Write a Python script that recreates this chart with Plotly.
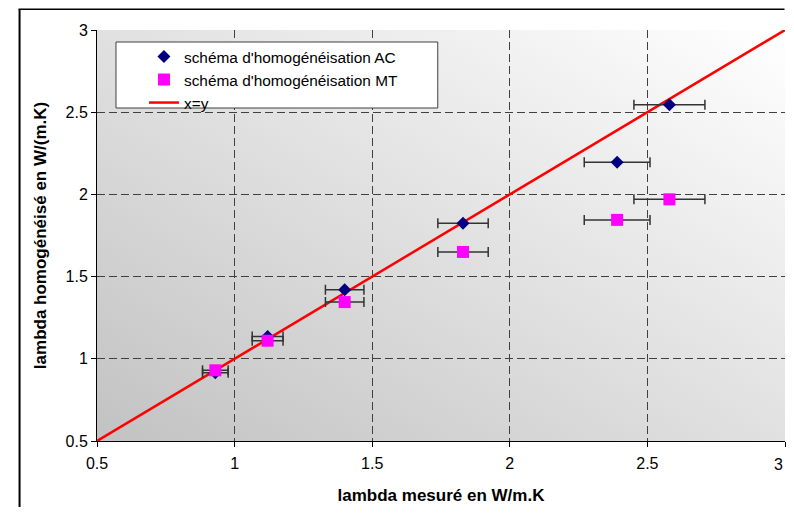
import plotly.graph_objects as go
import urllib.parse

# ---- data ----
lambda_mesure = [0.93, 1.12, 1.40, 1.83, 2.39, 2.58]
lambda_ac = [0.915, 1.135, 1.42, 1.825, 2.195, 2.545]
lambda_mt = [0.93, 1.11, 1.345, 1.65, 1.845, 1.97]
line_xy = [0.5, 3.0]
err_percent = 5
tick_vals = [0.5, 1, 1.5, 2, 2.5, 3]
tick_text = ["0.5", "1", "1.5", "2", "2.5", "3"]

FONT = "Liberation Sans, Arial, sans-serif"

# the page body has an 8px margin; the figure fits inside it (no overflow)
OFF = 8
FIG_W, FIG_H = 794 - 2 * OFF, 516 - 2 * OFF
L, R, T, B = 97 - OFF, 785.5 - OFF, 30 - OFF, 441 - OFF
W_, H_ = R - L, B - T


def px(x):
    return (x - OFF - L) / W_


def py(y):
    return (B - (y - OFF)) / H_


fig = go.Figure()

fig.add_trace(go.Scatter(
    x=line_xy, y=line_xy, mode="lines", name="x=y",
    line=dict(color="#FF0000", width=2.5), legendrank=3,
))
fig.add_trace(go.Scatter(
    x=lambda_mesure, y=lambda_ac, mode="markers",
    name="schéma d'homogénéisation AC",
    marker=dict(symbol="diamond", size=10, color="#000080"),
    error_x=dict(type="percent", value=err_percent, color="#333333", thickness=1.5, width=5),
    legendrank=1,
))
fig.add_trace(go.Scatter(
    x=lambda_mesure, y=lambda_mt, mode="markers",
    name="schéma d'homogénéisation MT",
    marker=dict(symbol="square", size=12, color="#FF00FF"),
    error_x=dict(type="percent", value=err_percent, color="#333333", thickness=1.5, width=5),
    legendrank=2,
))

svg = ('<svg xmlns="http://www.w3.org/2000/svg" width="100" height="100" viewBox="0 0 100 100" '
       'preserveAspectRatio="none"><defs><linearGradient id="g" x1="0" y1="1" x2="1" y2="0">'
       '<stop offset="0" stop-color="#c2c2c2"/><stop offset="1" stop-color="#ffffff"/>'
       '</linearGradient></defs><rect width="100" height="100" fill="url(#g)"/></svg>')
src = "data:image/svg+xml;charset=utf-8," + urllib.parse.quote(svg)

axis_common = dict(
    range=[0.5, 3], tickvals=tick_vals, ticktext=tick_text,
    showline=True, linecolor="black", linewidth=1,
    ticks="outside", ticklen=5, tickcolor="black", tickwidth=1,
    showgrid=True, gridcolor="#404040", gridwidth=1, griddash="8px,4px",
    zeroline=False, tickfont=dict(family=FONT, size=16, color="black"),
)

# last x tick label sits at the page edge: keep it inside the figure
annotations = [dict(xref="x", yref="paper", x=tick_vals[-1], y=0, text=tick_text[-1],
                    showarrow=False, xanchor="right", yanchor="top", yshift=-13,
                    font=dict(family=FONT, size=16, color="black"))]

fig.update_layout(
    width=FIG_W, height=FIG_H, autosize=False,
    margin=dict(l=L, r=FIG_W - R, t=T, b=FIG_H - B, pad=0),
    paper_bgcolor="white", plot_bgcolor="white",
    font=dict(family=FONT, color="black"),
    xaxis=dict(axis_common, ticklabelstandoff=3,
               title=dict(text="<b>lambda mesuré en W/m.K</b>",
                          font=dict(family=FONT, size=17), standoff=17)),
    yaxis=dict(axis_common, title=dict(text="<b>lambda homogénéisé en W/(m.K)</b>",
               font=dict(family=FONT, size=17), standoff=14)),
    showlegend=True,
    legend=dict(x=px(144), y=py(40), xanchor="left", yanchor="top",
                bgcolor="rgba(0,0,0,0)", borderwidth=0,
                font=dict(family=FONT, size=15.4, color="black")),
    images=[dict(source=src, xref="paper", yref="paper", x=0, y=1, sizex=1, sizey=1,
                 sizing="stretch", layer="below", xanchor="left", yanchor="top")],
    annotations=annotations,
    shapes=[
        dict(type="rect", xref="paper", yref="paper", x0=px(116), x1=px(438),
             y0=py(108), y1=py(42), fillcolor="white", line=dict(color="#404040", width=1),
             layer="above"),
        dict(type="rect", xref="paper", yref="paper", x0=px(18.5), x1=px(20.5),
             y0=py(507), y1=py(9), fillcolor="black", line=dict(width=0), layer="above"),
        dict(type="rect", xref="paper", yref="paper", x0=px(18.5), x1=px(785),
             y0=py(10), y1=py(8.5), fillcolor="black", line=dict(width=0), layer="above"),
    ],
)

fig.write_html("out.html")
